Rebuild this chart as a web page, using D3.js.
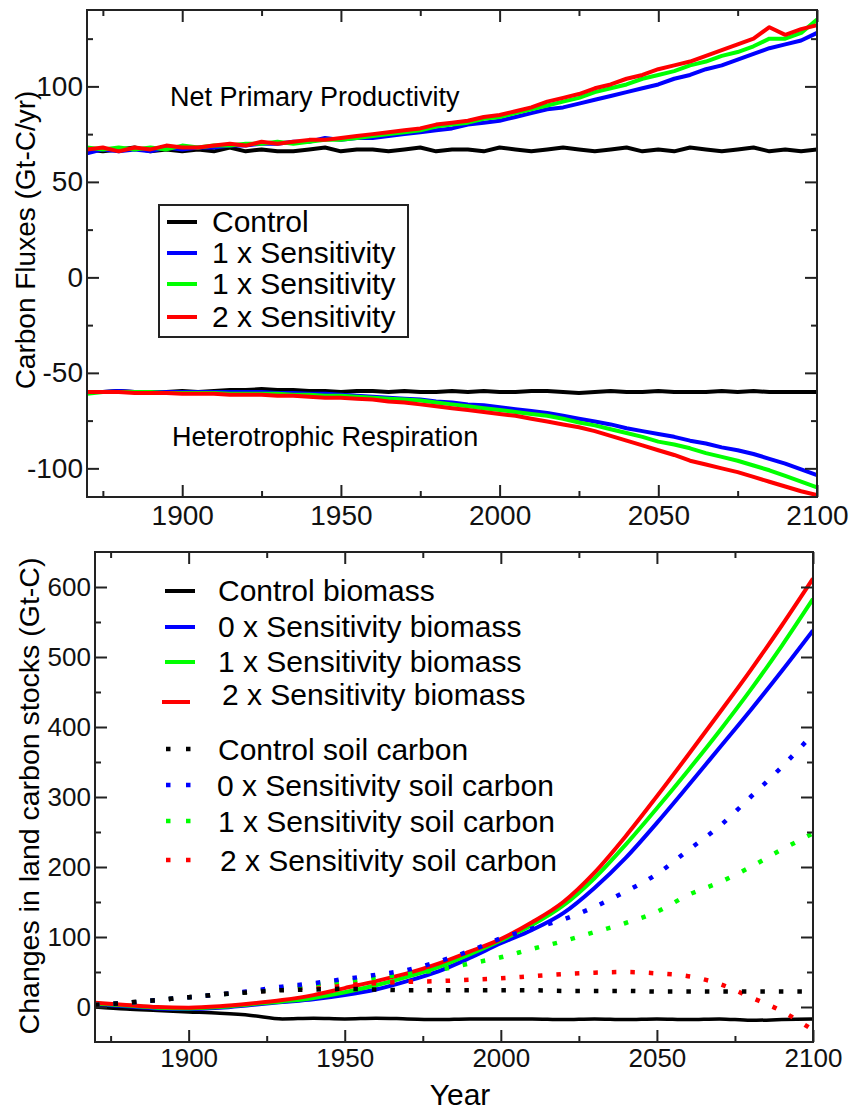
<!DOCTYPE html>
<html>
<head>
<meta charset="utf-8">
<script src="https://cdn.jsdelivr.net/npm/d3@7"></script>
<style>
  body { margin: 0; background: #fff; }
  svg { font-family: "Liberation Sans", Arial, Helvetica, sans-serif; }
</style>
</head>
<body>
<div id="chart"></div>
<script>
// ---- data: top panel (carbon fluxes, 5-year samples) ----
var yearsTop = d3.range(1870, 2101, 5);

var nppControl = [67,66,67,68,66,67,66,67,66,68,66,67,66,66,67,68,66,67,67,66,67,68,66,67,
  67,66,68,67,66,67,68,67,66,67,68,66,67,66,68,67,66,67,68,66,67,66,67];
var nppBlue = [65,67,66,67,66,68,67,68,68,69,69,70,70,71,71,73,72,73,73,74,75,76,77,78,
  80,81,82,84,86,88,89,91,93,95,97,99,101,104,106,109,111,114,117,120,122,124,128];
var nppGreen = [68,67,68,67,68,67,69,68,69,69,70,70,71,70,71,72,72,73,74,75,76,77,79,80,
  81,83,84,86,88,90,92,94,97,99,101,104,106,108,111,113,116,118,121,125,125,128,135];
var nppRed = [67,68,66,68,67,69,68,68,69,70,69,71,70,71,72,72,73,74,75,76,77,78,80,81,
  82,84,85,87,89,92,94,96,99,101,104,106,109,111,113,116,119,122,125,131,127,130,132];

var hrControl = [-60,-60,-59.5,-60,-60,-60,-59.5,-60,-59.5,-59,-59,-58.5,-59,-59,-59.5,-59.5,
  -60,-59.5,-59.5,-60,-59.5,-60,-60,-59.5,-60,-59.5,-60,-60,-59.5,-59.5,-60,-60.5,-60,-59.5,
  -60,-60,-59.5,-60,-60,-60,-59.5,-60,-59.5,-60,-60,-60,-60];
var hrBlue = [-60,-60,-59.5,-60,-60,-60,-60,-60,-60,-60,-60,-60,-60.5,-60.5,-61,-61,-61.5,-62,
  -62.5,-63,-63.5,-64,-65,-65.5,-66.5,-67,-68,-69,-70,-71,-72.5,-74,-75.5,-77,-79,-80.5,-82,
  -83.5,-85.5,-87,-89,-90.5,-92.5,-95,-97.5,-100.5,-103.5];
var hrGreen = [-61,-60,-60,-60,-60,-60.5,-60.5,-60.5,-60.5,-61,-61,-61,-61,-61.5,-61.5,-62,-62,
  -62.5,-63,-63.5,-64,-64.5,-65.5,-66.5,-67.5,-68.5,-69.5,-70.5,-71.5,-72.5,-74,-76,-77.5,
  -79.5,-81.5,-83.5,-86,-87.5,-89.5,-92,-94,-96,-98.5,-101,-104,-107,-110];
var hrRed = [-60,-60,-60,-60.5,-60.5,-60.5,-61,-61,-61,-61.5,-61.5,-61.5,-62,-62,-62.5,-63,-63,
  -63.5,-64,-65,-65.5,-66.5,-67.5,-68.5,-69.5,-70.5,-71.5,-72.5,-74,-75.5,-77,-78.5,-80.5,-83,
  -85.5,-88,-90.5,-93,-96,-98,-100,-102,-104.5,-107,-109.5,-112,-114];

var topLegend = ["Control", "1 x Sensitivity", "1 x Sensitivity", "2 x Sensitivity"];

// ---- data: bottom panel (land carbon stocks, 10-year samples) ----
var yearsBottom = d3.range(1870, 2101, 10);

var bioControl = [0,-3,-5,-7,-9,-12,-17,-16,-17,-16,-17,-18,-17,-17,-17,-18,-17,-18,-17,-18,-17,-19,-18,-17];
var bioBlue = [4,1,-2,-3,-1,3,7,11,17,25,37,51,70,91,110,134,170,213,263,316,370,424,480,538];
var bioGreen = [5,2,-1,-2,0,4,8,13,21,31,43,57,75,95,117,145,184,232,284,338,394,453,516,583];
var bioRed = [6,3,0,-1,1,5,10,17,27,37,48,62,79,97,121,150,192,244,301,360,420,481,545,612];

var soilControl = [3,6,10,14,18,21,24,25,26,25,24,24,24,24,24,23,23,23,22,22,22,22,22,22];
var soilBlue = [3,6,10,14,18,23,29,34,40,46,53,65,80,98,112,125,143,165,190,224,258,300,343,390];
var soilGreen = [3,6,10,14,18,22,27,32,37,42,47,53,62,71,83,94,107,120,136,160,178,200,225,248];
var soilRed = [3,6,10,14,18,22,25,29,32,34,36,37,39,41,44,47,49,50,48,44,33,14,-6,-33];

var bottomLegend = ["Control biomass", "0 x Sensitivity biomass", "1 x Sensitivity biomass",
  "2 x Sensitivity biomass", "Control soil carbon", "0 x Sensitivity soil carbon",
  "1 x Sensitivity soil carbon", "2 x Sensitivity soil carbon"];

var colors = ["#000000", "#0000ff", "#00ff00", "#ff0000"];

var svg = d3.select("#chart").append("svg")
  .attr("width", 858)
  .attr("height", 1113);

// Draw the framed axes with inward ticks on all four sides
function drawFrame(g, x, y, opt) {
  var w = x.range()[1], h = y.range()[0];
  var fmt = function (d) { return String(d); };

  function style(sel) {
    sel.select(".domain").remove();
    sel.selectAll("line").attr("stroke", "#222").attr("stroke-width", 2);
    sel.selectAll("text").attr("fill", "#111").style("font-size", opt.font + "px");
  }

  g.append("g").attr("transform", "translate(0," + h + ")")
    .call(d3.axisBottom(x).tickValues(opt.xMaj).tickSize(-12).tickSizeOuter(0)
      .tickPadding(opt.xPad).tickFormat(fmt)).call(style);
  g.append("g").attr("transform", "translate(0," + h + ")")
    .call(d3.axisBottom(x).tickValues(opt.xMin).tickSize(-6).tickSizeOuter(0).tickFormat("")).call(style);
  g.append("g")
    .call(d3.axisTop(x).tickValues(opt.xMaj).tickSize(-12).tickSizeOuter(0).tickFormat("")).call(style);
  g.append("g")
    .call(d3.axisTop(x).tickValues(opt.xMin).tickSize(-6).tickSizeOuter(0).tickFormat("")).call(style);

  g.append("g")
    .call(d3.axisLeft(y).tickValues(opt.yMaj).tickSize(-12).tickSizeOuter(0)
      .tickPadding(4).tickFormat(fmt)).call(style);
  g.append("g")
    .call(d3.axisLeft(y).tickValues(opt.yMin).tickSize(-6).tickSizeOuter(0).tickFormat("")).call(style);
  g.append("g").attr("transform", "translate(" + w + ",0)")
    .call(d3.axisRight(y).tickValues(opt.yMaj).tickSize(-12).tickSizeOuter(0).tickFormat("")).call(style);
  g.append("g").attr("transform", "translate(" + w + ",0)")
    .call(d3.axisRight(y).tickValues(opt.yMin).tickSize(-6).tickSizeOuter(0).tickFormat("")).call(style);

  g.append("rect")
    .attr("width", w).attr("height", h)
    .attr("fill", "none").attr("stroke", "#222").attr("stroke-width", 2);
}

// ================= TOP PANEL =================
var topLeft = 87, topTop = 10, topW = 730, topH = 487;
var gTop = svg.append("g").attr("transform", "translate(" + topLeft + "," + topTop + ")");

var xTop = d3.scaleLinear().domain([1870, 2100]).range([0, topW]);
var yTop = d3.scaleLinear().domain([-115, 140]).range([topH, 0]);

gTop.append("clipPath").attr("id", "clipTop")
  .append("rect").attr("width", topW).attr("height", topH);

var lineTop = d3.line()
  .x(function (d, i) { return xTop(yearsTop[i]); })
  .y(function (d) { return yTop(d); });

var topSeries = [nppControl, nppBlue, nppGreen, nppRed, hrControl, hrBlue, hrGreen, hrRed];
gTop.append("g").attr("clip-path", "url(#clipTop)")
  .selectAll("path")
  .data(topSeries)
  .join("path")
  .attr("d", lineTop)
  .attr("fill", "none")
  .attr("stroke", function (d, i) { return colors[i % 4]; })
  .attr("stroke-width", 4)
  .attr("stroke-linejoin", "round");

drawFrame(gTop, xTop, yTop, {
  xMaj: [1900, 1950, 2000, 2050, 2100],
  xMin: [1875, 1925, 1975, 2025, 2075],
  yMaj: [-100, -50, 0, 50, 100],
  yMin: [-75, -25, 25, 75, 125],
  font: 28, xPad: 8
});

svg.append("text")
  .attr("x", 170).attr("y", 106)
  .style("font-size", "27px")
  .text("Net Primary Productivity");

svg.append("text")
  .attr("x", 172).attr("y", 446)
  .style("font-size", "27px")
  .text("Heterotrophic Respiration");

svg.append("text")
  .attr("transform", "translate(25,240) rotate(-90)")
  .attr("text-anchor", "middle")
  .attr("dominant-baseline", "central")
  .style("font-size", "28px")
  .text("Carbon Fluxes (Gt-C/yr)");

// top legend
svg.append("rect")
  .attr("x", 159).attr("y", 205).attr("width", 249).attr("height", 132)
  .attr("fill", "#fff").attr("stroke", "#222").attr("stroke-width", 2);

var topRows = [222, 253, 284, 317];
var legTop = svg.append("g").selectAll("g")
  .data(topLegend)
  .join("g")
  .attr("transform", function (d, i) { return "translate(0," + topRows[i] + ")"; });
legTop.append("line")
  .attr("x1", 167).attr("x2", 197)
  .attr("stroke", function (d, i) { return colors[i]; })
  .attr("stroke-width", 4);
legTop.append("text")
  .attr("x", 212).attr("y", 10)
  .style("font-size", "30px")
  .text(function (d) { return d; });

// ================= BOTTOM PANEL =================
var botLeft = 95, botTop = 552, botW = 718, botH = 490;
var gBot = svg.append("g").attr("transform", "translate(" + botLeft + "," + botTop + ")");

var xBot = d3.scaleLinear().domain([1870, 2100]).range([0, botW]);
var yBot = d3.scaleLinear().domain([-50, 650]).range([botH, 0]);

gBot.append("clipPath").attr("id", "clipBot")
  .append("rect").attr("width", botW).attr("height", botH);

var lineBot = d3.line()
  .curve(d3.curveMonotoneX)
  .x(function (d, i) { return xBot(yearsBottom[i]); })
  .y(function (d) { return yBot(d); });

var plotBot = gBot.append("g").attr("clip-path", "url(#clipBot)");

plotBot.selectAll("path.bio")
  .data([bioControl, bioBlue, bioGreen, bioRed])
  .join("path")
  .attr("class", "bio")
  .attr("d", lineBot)
  .attr("fill", "none")
  .attr("stroke", function (d, i) { return colors[i]; })
  .attr("stroke-width", function (d, i) { return i === 0 ? 3.5 : 4; });

plotBot.selectAll("path.soil")
  .data([soilRed, soilGreen, soilBlue, soilControl])
  .join("path")
  .attr("class", "soil")
  .attr("d", lineBot)
  .attr("fill", "none")
  .attr("stroke", function (d, i) { return colors[3 - i]; })
  .attr("stroke-width", 4.5)
  .attr("stroke-dasharray", "4.5,14");

drawFrame(gBot, xBot, yBot, {
  xMaj: [1900, 1950, 2000, 2050, 2100],
  xMin: [1875, 1925, 1975, 2025, 2075],
  yMaj: [0, 100, 200, 300, 400, 500, 600],
  yMin: [50, 150, 250, 350, 450, 550],
  font: 26, xPad: 7
});

svg.append("text")
  .attr("transform", "translate(29,796) rotate(-90)")
  .attr("text-anchor", "middle")
  .attr("dominant-baseline", "central")
  .style("font-size", "28.5px")
  .text("Changes in land carbon stocks (Gt-C)");

svg.append("text")
  .attr("x", 460).attr("y", 1105)
  .attr("text-anchor", "middle")
  .style("font-size", "30px")
  .text("Year");

// bottom legend
var botRows = [590, 626, 661, 694, 749, 785, 821, 860];
var botLineY = [591, 627, 662, 702];
var botTextX = [218, 218, 218, 222, 218, 217, 218, 220];
var legBot = svg.append("g").selectAll("g")
  .data(bottomLegend)
  .join("g");

legBot.filter(function (d, i) { return i < 4; })
  .append("line")
  .attr("x1", function (d, i) { return i === 3 ? 162 : 165; })
  .attr("x2", function (d, i) { return i === 3 ? 190 : 195; })
  .attr("y1", function (d, i) { return botLineY[i]; })
  .attr("y2", function (d, i) { return botLineY[i]; })
  .attr("stroke", function (d, i) { return colors[i]; })
  .attr("stroke-width", 4);

legBot.filter(function (d, i) { return i >= 4; })
  .append("line")
  .attr("x1", 166).attr("x2", 192)
  .attr("y1", function (d, i) { return botRows[i + 4]; })
  .attr("y2", function (d, i) { return botRows[i + 4]; })
  .attr("stroke", function (d, i) { return colors[i]; })
  .attr("stroke-width", 4.5)
  .attr("stroke-dasharray", "4.5,15.5");

legBot.append("text")
  .attr("x", function (d, i) { return botTextX[i]; })
  .attr("y", function (d, i) { return botRows[i] + 10.5; })
  .style("font-size", "30px")
  .text(function (d) { return d; });
</script>
</body>
</html>
